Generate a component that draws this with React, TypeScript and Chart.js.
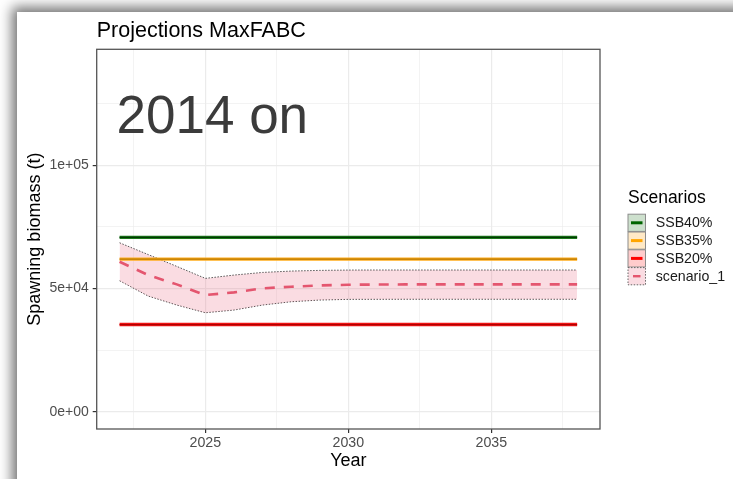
import React, { useEffect, useRef } from "react";
import { Chart, registerables } from "chart.js";

Chart.register(...registerables);

// ---- data ----
const years = [2022, 2023, 2024, 2025, 2026, 2027, 2028, 2029, 2030, 2031, 2032, 2033, 2034, 2035, 2036, 2037, 2038];
const meanSSB = [60830, 55430, 51660, 47320, 48420, 50040, 50700, 51250, 51500, 51600, 51650, 51660, 51660, 51660, 51660, 51660, 51660];
const lowerSSB = [53130, 46920, 43270, 40150, 41240, 43270, 44610, 45300, 45580, 45600, 45620, 45620, 45620, 45620, 45620, 45620, 45620];
const upperSSB = [68530, 63750, 58950, 54090, 55430, 56500, 57050, 57330, 57460, 57480, 57480, 57480, 57480, 57480, 57480, 57480, 57480];
const SSB40 = 70720;
const SSB35 = 61880;
const SSB20 = 35360;

const xMajorTicks = [2025, 2030, 2035];
const xMinorTicks = [2022.5, 2027.5, 2032.5, 2037.5];
const yMajorTicks = [0, 50000, 100000];
const yMinorTicks = [25000, 75000, 125000];
const yTickLabels = ["0e+00", "5e+04", "1e+05"];

const legendLabels = ["SSB40%", "SSB35%", "SSB20%", "scenario_1"];
const titleText = "Projections MaxFABC";
const annotationText = "2014 on";
const xTitle = "Year";
const yTitle = "Spawning biomass (t)";
const legendTitle = "Scenarios";

const FONT = "'Liberation Sans', Arial, Helvetica, sans-serif";

const refLine = (v: number) => [
  { x: years[0], y: v },
  { x: years[years.length - 1], y: v },
];
const series = (vals: number[]) => years.map((yr, i) => ({ x: yr, y: vals[i] }));

const overlayPlugin = {
  id: "overlay",
  afterDatasetsDraw(chart: any) {
    const { ctx, chartArea } = chart;
    ctx.save();
    ctx.strokeStyle = "#555555";
    ctx.lineWidth = 1.3;
    ctx.strokeRect(chartArea.left, chartArea.top, chartArea.right - chartArea.left, chartArea.bottom - chartArea.top);
    ctx.restore();
  },
  afterDraw(chart: any) {
    const { ctx, chartArea } = chart;
    ctx.save();
    // title
    ctx.fillStyle = "#000000";
    ctx.textAlign = "left";
    ctx.textBaseline = "alphabetic";
    ctx.font = `21.5px ${FONT}`;
    ctx.fillText(titleText, chartArea.left, 36.7);
    // annotation
    ctx.fillStyle = "#3b3b3b";
    ctx.font = `53px ${FONT}`;
    ctx.fillText(annotationText, 116.5, 133.3);
    // x title
    ctx.fillStyle = "#000000";
    ctx.font = `18px ${FONT}`;
    ctx.textAlign = "center";
    ctx.fillText(xTitle, (chartArea.left + chartArea.right) / 2, 466);
    // y title
    ctx.save();
    ctx.translate(39.6, (chartArea.top + chartArea.bottom) / 2);
    ctx.rotate(-Math.PI / 2);
    ctx.fillText(yTitle, 0, 0);
    ctx.restore();
    // legend
    ctx.textAlign = "left";
    ctx.font = `17.5px ${FONT}`;
    ctx.fillText(legendTitle, 628, 203);
    const fills = ["#cde0cd", "#ffe9c6", "#ffcccc", "#fadce2"];
    const lines = ["#006400", "#ffa500", "#ff0000", "#e4566f"];
    const kx = 628, kw = 17.5, kh = 17.2, pitch = 17.8, ky0 = 214.2;
    for (let i = 0; i < legendLabels.length; i++) {
      const ky = ky0 + i * pitch;
      ctx.fillStyle = fills[i];
      ctx.fillRect(kx, ky, kw, kh);
      ctx.strokeStyle = i === 3 ? "#666666" : "#8c8c8c";
      ctx.lineWidth = 1;
      ctx.setLineDash(i === 3 ? [1.5, 1.5] : []);
      ctx.strokeRect(kx, ky, kw, kh);
      ctx.setLineDash([]);
      ctx.strokeStyle = lines[i];
      ctx.lineWidth = 3;
      ctx.beginPath();
      if (i === 3) {
        ctx.lineWidth = 2.4;
        ctx.moveTo(kx + 5, ky + kh / 2);
        ctx.lineTo(kx + kw - 5, ky + kh / 2);
      } else {
        ctx.moveTo(kx + 3, ky + kh / 2);
        ctx.lineTo(kx + kw - 3, ky + kh / 2);
      }
      ctx.stroke();
      ctx.fillStyle = "#1a1a1a";
      ctx.font = `14.2px ${FONT}`;
      ctx.textBaseline = "middle";
      ctx.fillText(legendLabels[i], 655.7, ky + kh / 2 + 0.5);
      ctx.textBaseline = "alphabetic";
    }
    ctx.restore();
  },
};

export default function App() {
  const canvasRef = useRef<HTMLCanvasElement | null>(null);

  useEffect(() => {
    if (!canvasRef.current) return;
    const isMajorX = (v: number) => xMajorTicks.includes(v);
    const isMajorY = (v: number) => yMajorTicks.includes(v);
    const lineBase = { pointRadius: 0, pointHoverRadius: 0, tension: 0, fill: false };
    const chart = new Chart(canvasRef.current, {
      type: "line",
      data: {
        datasets: [
          {
            ...lineBase,
            label: "scenario_1",
            data: series(meanSSB),
            borderColor: "#e4566f",
            borderWidth: 2.6,
            borderDash: [10, 9],
            order: 0,
          },
          { ...lineBase, label: "SSB40% c", data: refLine(SSB40), borderColor: "#003a00", borderWidth: 1.3, order: 1 },
          { ...lineBase, label: "SSB40%", data: refLine(SSB40), borderColor: "#1c7a1c", borderWidth: 3.4, order: 2 },
          { ...lineBase, label: "SSB35% c", data: refLine(SSB35), borderColor: "#b87800", borderWidth: 1.3, order: 1 },
          { ...lineBase, label: "SSB35%", data: refLine(SSB35), borderColor: "#ffac1c", borderWidth: 3.4, order: 2 },
          { ...lineBase, label: "SSB20% c", data: refLine(SSB20), borderColor: "#b00000", borderWidth: 1.3, order: 1 },
          { ...lineBase, label: "SSB20%", data: refLine(SSB20), borderColor: "#f01414", borderWidth: 3.4, order: 2 },
          {
            ...lineBase,
            label: "upper",
            data: series(upperSSB),
            borderColor: "#555555",
            borderWidth: 1,
            borderDash: [1.5, 1.5],
            fill: "+1",
            backgroundColor: "rgba(232, 82, 111, 0.2)",
            order: 3,
          },
          {
            ...lineBase,
            label: "lower",
            data: series(lowerSSB),
            borderColor: "#555555",
            borderWidth: 1,
            borderDash: [1.5, 1.5],
            order: 4,
          },
        ],
      },
      options: {
        animation: false,
        responsive: false,
        events: [],
        layout: { padding: { left: 0, top: 49.3, right: 133, bottom: 0 } },
        plugins: { legend: { display: false }, tooltip: { enabled: false }, title: { display: false } },
        scales: {
          x: {
            type: "linear",
            min: 2021.2,
            max: 2038.8,
            afterBuildTicks: (s: any) => {
              s.ticks = [...xMinorTicks, ...xMajorTicks].sort((a, b) => a - b).map((v) => ({ value: v }));
            },
            afterFit: (s: any) => {
              s.height = 50;
            },
            ticks: {
              autoSkip: false,
              maxRotation: 0,
              padding: 2,
              color: "#4d4d4d",
              font: { family: FONT, size: 14.2 },
              callback: (v: any) => (isMajorX(Number(v)) ? String(v) : ""),
            },
            grid: {
              color: "#ebebeb",
              lineWidth: (c: any) => (c.tick && isMajorX(c.tick.value) ? 1.2 : 0.6),
              tickColor: (c: any) => (c.tick && isMajorX(c.tick.value) ? "#333333" : "rgba(0,0,0,0)"),
              tickLength: 4,
              tickWidth: 1.2,
            },
            border: { display: false },
          },
          y: {
            type: "linear",
            min: -7000,
            max: 147000,
            afterBuildTicks: (s: any) => {
              s.ticks = [...yMinorTicks, ...yMajorTicks].sort((a, b) => a - b).map((v) => ({ value: v }));
            },
            afterFit: (s: any) => {
              s.width = 96.7;
            },
            ticks: {
              autoSkip: false,
              padding: 4,
              color: "#4d4d4d",
              font: { family: FONT, size: 14 },
              callback: (v: any) => {
                const i = yMajorTicks.indexOf(Number(v));
                return i >= 0 ? yTickLabels[i] : "";
              },
            },
            grid: {
              color: "#ebebeb",
              lineWidth: (c: any) => (c.tick && isMajorY(c.tick.value) ? 1.2 : 0.6),
              tickColor: (c: any) => (c.tick && isMajorY(c.tick.value) ? "#333333" : "rgba(0,0,0,0)"),
              tickLength: 4,
              tickWidth: 1.2,
            },
            border: { display: false },
          },
        },
      } as any,
      plugins: [overlayPlugin],
    });
    return () => chart.destroy();
  }, []);

  return (
    <div style={{ position: "fixed", left: 0, top: 0, width: 733, height: 479, overflow: "hidden", background: "#ffffff" }}>
      <div
        style={{
          position: "absolute",
          left: 16.5,
          top: 11.5,
          width: 900,
          height: 700,
          background: "#ffffff",
          boxShadow: "-2px -2px 12px 3px rgba(0,0,0,0.55)",
        }}
      />
      <canvas ref={canvasRef} width={733} height={479} style={{ position: "absolute", left: 0, top: 0, width: 733, height: 479 }} />
    </div>
  );
}
